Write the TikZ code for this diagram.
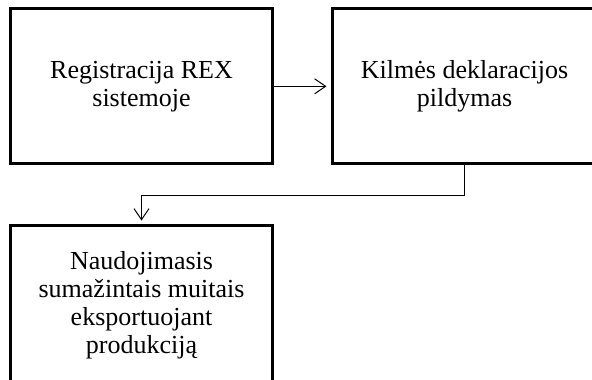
\documentclass[tikz,border=0pt]{standalone}
\usepackage{fontspec}
\setmainfont{Liberation Serif}
\usetikzlibrary{arrows.meta}

\tikzset{
  stepbox/.style = {draw, line width = 3bp, minimum width = 261bp, minimum height = 155bp,
                    align = center, font = \fontsize{26bp}{28bp}\selectfont},
  flow/.style = {line width = 1bp, -{Straight Barb[length = 11bp, width = 15bp]}}
}

\begin{document}
\begin{tikzpicture}[x = 1bp, y = -1bp]
\useasboundingbox (0,0) rectangle (592,379);
\clip (0,0) rectangle (592,379); % boxes 2 and 3 run off the page
\node [stepbox] (reg) at (141.5,86.3) {Registracija REX\\sistemoje};
\node [stepbox, minimum width = 265bp] (dekl) at (464.5,86.3) {Kilmės deklaracijos\\pildymas};
\node [stepbox, minimum height = 160bp] (muit) at (141.5,305) {Naudojimasis\\sumažintais muitais\\eksportuojant\\produkciją};
\draw [flow, shorten >= 4bp] (reg.east) -- (dekl.west);
\draw [flow, shorten >= 3bp] (dekl.south) -- ++(0,30) -| (muit.north);
\end{tikzpicture}
\end{document}
